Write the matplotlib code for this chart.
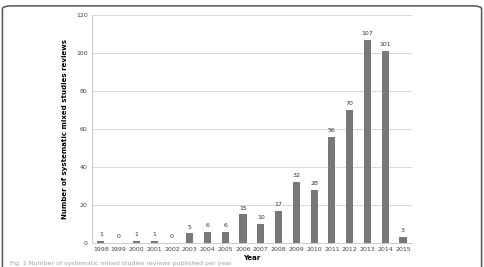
import numpy as np
import matplotlib.pyplot as plt
from matplotlib.patches import FancyBboxPatch

years = [str(y) for y in range(1998, 2016)]
counts = [1, 0, 1, 1, 0, 5, 6, 6, 15, 10, 17, 32, 28, 56, 70, 107, 101, 3]

fig = plt.figure(figsize=(4.84, 2.67), dpi=100)
fig.patch.set_facecolor('white')

# rounded panel border
frame = FancyBboxPatch((0.005, -0.2), 0.99, 1.178, boxstyle="round,pad=0,rounding_size=0.02",
                       transform=fig.transFigure, fill=False, edgecolor='#555555', linewidth=1.1,
                       mutation_aspect=267 / 484)
fig.patches.append(frame)

ax = fig.add_axes([0.19, 0.09, 0.661, 0.854])
x = np.arange(len(years))
ax.bar(x, counts, width=0.4, color='#787878', zorder=3)
for xi, c in zip(x, counts):
    ax.text(xi, c + 2, str(c), ha='center', va='bottom', fontsize=4.5, color='#333333')

ax.set_xlim(-0.5, len(years) - 0.5)
ax.set_ylim(0, 120)
ax.set_yticks(range(0, 121, 20))
ax.set_xticks(x)
ax.set_xticklabels(years)
ax.tick_params(axis='both', labelsize=4.5, length=0, colors='#444444', pad=3)
ax.grid(axis='y', color='#d8d8d8', linewidth=0.7, zorder=0)
for s in ['top', 'right']:
    ax.spines[s].set_visible(False)
ax.spines['left'].set_color('#cccccc')
ax.spines['bottom'].set_color('#cccccc')
ax.spines['left'].set_linewidth(0.7)
ax.spines['bottom'].set_linewidth(0.7)

ax.set_xlabel('Year', fontsize=5, fontweight='bold', labelpad=2)
ax.set_ylabel('Number of systematic mixed studies reviews', fontsize=5, fontweight='bold', labelpad=6)

fig.text(0.02, 0.004, 'Fig. 1 Number of systematic mixed studies reviews published per year',
         fontsize=4.5, color='#a0a0a0', va='bottom')

fig.savefig('out.png', dpi=100)
